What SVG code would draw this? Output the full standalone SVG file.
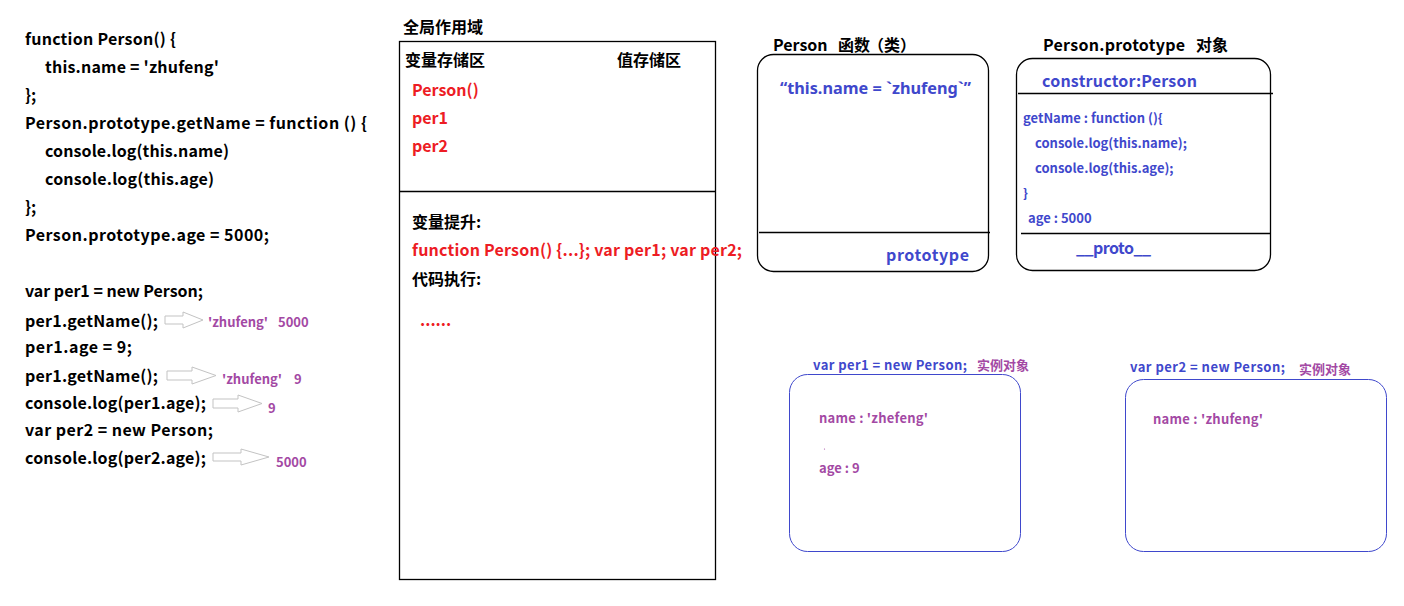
<svg xmlns="http://www.w3.org/2000/svg" width="1404" height="606" viewBox="0 0 1404 606">
<style>
text{font-family:"Noto Sans CJK SC","Noto Sans",sans-serif;font-weight:bold;}
.c{font-size:16px;fill:#000;}
.r{font-size:16px;fill:#ed1c24;}
.b{fill:#3f48cc;}
.p{fill:#a349a4;}
.s13{font-size:13px;}
.s16{font-size:16px;}
.box{fill:none;stroke:#000;stroke-width:1.3;}
.ibox{fill:none;stroke:#3f48cc;stroke-width:1;}
.arr{fill:#fff;stroke:#c3c3c3;stroke-width:1;}
</style>
<rect width="1404" height="606" fill="#fff"/>

<g id="code">
<text class="c" x="25" y="45" textLength="151" lengthAdjust="spacing">function Person() {</text>
<text class="c" x="45" y="73" textLength="174" lengthAdjust="spacing">this.name = 'zhufeng'</text>
<text class="c" x="25" y="101">};</text>
<text class="c" x="25" y="129" textLength="342" lengthAdjust="spacing">Person.prototype.getName = function () {</text>
<text class="c" x="45" y="157" textLength="184" lengthAdjust="spacing">console.log(this.name)</text>
<text class="c" x="45" y="185" textLength="169" lengthAdjust="spacing">console.log(this.age)</text>
<text class="c" x="25" y="213">};</text>
<text class="c" x="25" y="241" textLength="244" lengthAdjust="spacing">Person.prototype.age = 5000;</text>
<text class="c" x="25" y="297" textLength="178" lengthAdjust="spacing">var per1 = new Person;</text>
<text class="c" x="25" y="327" textLength="133" lengthAdjust="spacing">per1.getName();</text>
<text class="c" x="25" y="353" textLength="107" lengthAdjust="spacing">per1.age = 9;</text>
<text class="c" x="25" y="382" textLength="133" lengthAdjust="spacing">per1.getName();</text>
<text class="c" x="25" y="409" textLength="181" lengthAdjust="spacing">console.log(per1.age);</text>
<text class="c" x="25" y="436" textLength="188" lengthAdjust="spacing">var per2 = new Person;</text>
<text class="c" x="25" y="464" textLength="181" lengthAdjust="spacing">console.log(per2.age);</text>
</g>

<g id="connectors">
<polygon class="arr" points="165,316 183,316 183,312 203,320 183,328 183,324 165,324"/>
<polygon class="arr" points="167,371 192,371 192,367 216,375.5 192,384 192,380 167,380"/>
<polygon class="arr" points="213,399 238,399 238,395 262,403.5 238,412 238,408 213,408"/>
<polygon class="arr" points="213,453 241,453 241,449 269,457 241,465 241,461 213,461"/>
</g>

<g id="results">
<text class="p s13" x="208" y="327">'zhufeng'</text>
<text class="p s13" x="278" y="327">5000</text>
<text class="p s13" x="222" y="384">'zhufeng'</text>
<text class="p s13" x="294" y="384">9</text>
<text class="p s13" x="268" y="413">9</text>
<text class="p s13" x="276" y="467">5000</text>
</g>

<g id="global-scope">
<text class="c" x="403" y="33">全局作用域</text>
<rect class="box" x="399.5" y="41.5" width="316" height="538"/>
<line x1="399.5" y1="191.5" x2="715.5" y2="191.5" stroke="#000" stroke-width="1.3"/>
<text class="c" x="405" y="66">变量存储区</text>
<text class="c" x="617" y="66">值存储区</text>
<text class="r" x="412" y="96">Person()</text>
<text class="r" x="412" y="124">per1</text>
<text class="r" x="412" y="152">per2</text>
<text class="c" x="412" y="228">变量提升:</text>
<text class="r" x="412" y="256" textLength="330" lengthAdjust="spacing">function Person() {...}; var per1; var per2;</text>
<text class="c" x="412" y="285">代码执行:</text>
<text class="r" x="420" y="326">......</text>
</g>

<g id="person-function">
<text class="c" y="51"><tspan x="773">Person</tspan><tspan x="838">函数</tspan><tspan x="868">（类）</tspan></text>
<rect class="box" x="757.5" y="54.5" width="231" height="217" rx="16"/>
<line x1="759" y1="232.5" x2="990" y2="232.5" stroke="#000" stroke-width="1.3"/>
<text class="b s16" x="780" y="94" style="font-family:'Noto Sans',sans-serif" textLength="191" lengthAdjust="spacingAndGlyphs">“this.name = `zhufeng`”</text>
<text class="b s16" x="886" y="261" textLength="83" lengthAdjust="spacing">prototype</text>
</g>

<g id="person-prototype">
<text class="c" y="51"><tspan x="1043" textLength="142" lengthAdjust="spacing">Person.prototype</tspan><tspan x="1196">对象</tspan></text>
<rect class="box" x="1016.5" y="58.5" width="254" height="212" rx="16"/>
<line x1="1018" y1="93.5" x2="1273" y2="93.5" stroke="#000" stroke-width="1.3"/>
<line x1="1021" y1="233.5" x2="1270" y2="233.5" stroke="#000" stroke-width="1.3"/>
<text class="b s16" x="1042" y="87" textLength="155" lengthAdjust="spacing">constructor:Person</text>
<text class="b s13" x="1023" y="123">getName : function (){</text>
<text class="b s13" x="1035" y="148">console.log(this.name);</text>
<text class="b s13" x="1035" y="173">console.log(this.age);</text>
<text class="b s13" x="1023" y="198">}</text>
<text class="b s13" x="1028" y="223">age : 5000</text>
<text class="b s16" x="1076" y="254" textLength="75" lengthAdjust="spacing">__proto__</text>
</g>

<g id="per1">
<text class="b s13" x="813" y="370" textLength="154" lengthAdjust="spacing">var per1 = new Person;</text>
<text class="p s13" x="977" y="370" font-weight="normal">实例对象</text>
<rect class="ibox" x="789.5" y="374.5" width="231" height="177" rx="18"/>
<text class="p s13" x="819" y="423" textLength="109" lengthAdjust="spacing">name : 'zhefeng'</text>
<circle cx="824.5" cy="449" r="0.6" fill="#a349a4"/>
<text class="p s13" x="819" y="473">age : 9</text>
</g>

<g id="per2">
<text class="b s13" x="1130" y="372" textLength="155" lengthAdjust="spacing">var per2 = new Person;</text>
<text class="p s13" x="1299" y="374" font-weight="normal">实例对象</text>
<rect class="ibox" x="1125.5" y="379.5" width="261" height="172" rx="18"/>
<text class="p s13" x="1153" y="424" textLength="110" lengthAdjust="spacing">name : 'zhufeng'</text>
</g>
</svg>
